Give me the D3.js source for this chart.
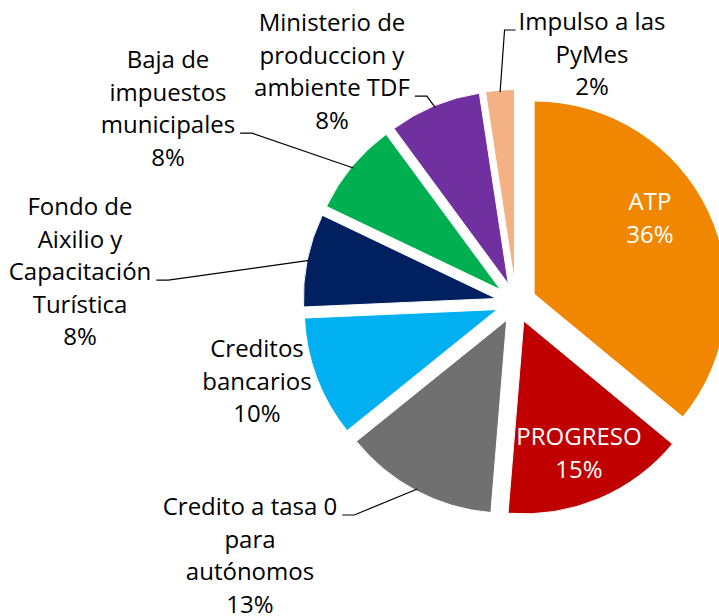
<!DOCTYPE html>
<html lang="es">
<head>
<meta charset="UTF-8">
<title>Pie</title>
<style>
  body { margin: 0; background: #fff; }
  svg { display: block; }
  text { font-family: "Open Sans", "Noto Sans", sans-serif; font-size: 24px; }
</style>
</head>
<body>
<svg id="chart"></svg>
<script src="https://cdn.jsdelivr.net/npm/d3@7/dist/d3.min.js"></script>
<script>
// data
var categories = ["ATP", "PROGRESO", "Credito a tasa 0 para autónomos", "Creditos bancarios",
  "Fondo de Aixilio y Capacitación Turística", "Baja de impuestos municipales",
  "Ministerio de produccion y ambiente TDF", "Impulso a las PyMes"];
var values = [36, 15.3, 12.9, 10.1, 7.8, 7.8, 7.7, 2.4];
var colors = ["#F18700", "#C00000", "#707070", "#00B0F0", "#002060", "#00B050", "#7030A0", "#F4B183"];

// how each label is broken into lines
var labelLines = [
  ["ATP"], ["PROGRESO"], ["Credito a tasa 0", "para", "autónomos"], ["Creditos", "bancarios"],
  ["Fondo de", "Aixilio y", "Capacitación", "Turística"], ["Baja de", "impuestos", "municipales"],
  ["Ministerio de", "produccion y", "ambiente TDF"], ["Impulso a las", "PyMes"]
];

// label placement: center x, first baseline, text colour, leader (line index, side)
var labelLayout = [
  { x: 650, y: 210, fill: "#fff" },
  { x: 579, y: 445, fill: "#fff" },
  { x: 250, y: 515, fill: "#000", leader: { line: 0, side: "right" } },
  { x: 257, y: 357, fill: "#000" },
  { x: 80, y: 215, fill: "#000", leader: { line: 2, side: "right" } },
  { x: 168, y: 68, fill: "#000", leader: { line: 2, side: "right" } },
  { x: 332, y: 31, fill: "#000", leader: { line: 2, side: "right" } },
  { x: 592, y: 30, fill: "#000", leader: { line: 0, side: "left" } }
];

var width = 719, height = 616;
var cx = 516, cy = 302.5, radius = 193, explode = 20, lineHeight = 32.6;

var svg = d3.select("#chart").attr("width", width).attr("height", height);

var pie = d3.pie().value(function (d) { return d; }).sort(null);
var arc = d3.arc().innerRadius(0).outerRadius(radius);
var edge = d3.arc().innerRadius(radius - 2).outerRadius(radius - 2);
var pct = d3.format(".0%");
var total = d3.sum(values);

var arcs = pie(values);

function offset(d) {
  var a = (d.startAngle + d.endAngle) / 2;
  return [Math.sin(a) * explode, -Math.cos(a) * explode];
}

var g = svg.append("g").attr("transform", "translate(" + cx + "," + cy + ")");

g.selectAll("path.slice")
  .data(arcs)
  .enter().append("path")
  .attr("class", "slice")
  .attr("transform", function (d) { return "translate(" + offset(d) + ")"; })
  .attr("d", arc)
  .attr("fill", function (d, i) { return colors[i]; })
  .attr("stroke", "#fff")
  .attr("stroke-width", 1);

// labels
arcs.forEach(function (d, i) {
  var lay = labelLayout[i];
  var lines = labelLines[i].concat([pct(values[i] / total)]);
  var t = svg.append("text")
    .attr("text-anchor", "middle")
    .attr("fill", lay.fill);
  var spans = lines.map(function (s, k) {
    return t.append("tspan")
      .attr("x", lay.x)
      .attr("y", lay.y + k * lineHeight)
      .text(s);
  });

  if (lay.leader) {
    var sp = spans[lay.leader.line];
    var w = sp.node().getComputedTextLength();
    var ly = lay.y + lay.leader.line * lineHeight;
    var x0, x1;
    if (lay.leader.side === "right") {
      x0 = lay.x + w / 2 + 5;
      x1 = x0 + 12;
    } else {
      x0 = lay.x - w / 2 - 3;
      x1 = x0 - 11;
    }
    var c = edge.centroid(d), o = offset(d);
    var px = cx + c[0] + o[0], py = cy + c[1] + o[1];
    svg.append("path")
      .attr("d", d3.line()([[x0, ly], [x1, ly], [px, py]]))
      .attr("fill", "none")
      .attr("stroke", "#000")
      .attr("stroke-width", 1.2);
  }
});
</script>
</body>
</html>
